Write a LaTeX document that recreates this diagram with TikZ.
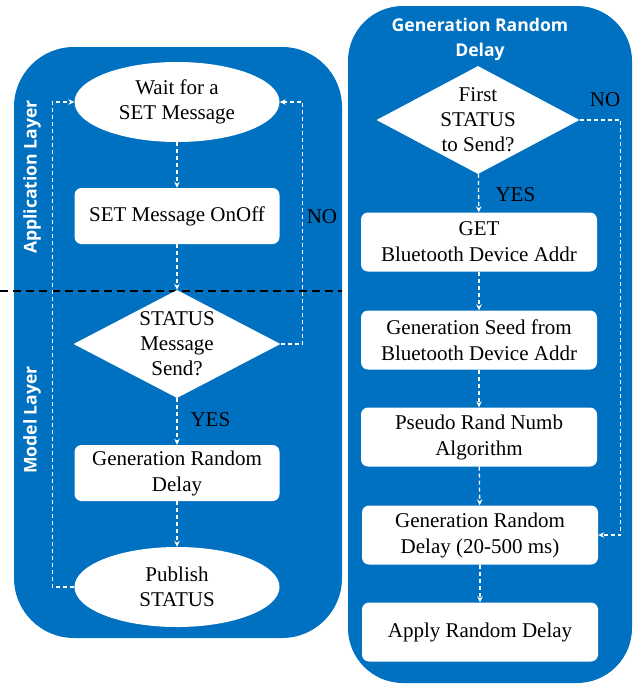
\documentclass[tikz,border=0pt]{standalone}
\usepackage{fontspec}
\setmainfont{Liberation Serif}
\newfontfamily\headfont{Open Sans}
\usetikzlibrary{shapes.geometric,arrows.meta}
\definecolor{layerblue}{RGB}{0,112,192}

\begin{document}
\begin{tikzpicture}[x=1pt, y=-1pt,
  panel/.style={fill=layerblue, draw=none},
  stepbox/.style={rectangle, rounded corners=7pt, fill=white, inner sep=0pt, align=center, font=\fontsize{21}{26}\selectfont},
  term/.style={ellipse, fill=white, minimum width=205pt, minimum height=80pt, inner sep=0pt, align=center, font=\fontsize{21}{25}\selectfont},
  decision/.style={diamond, fill=white, inner sep=0pt},
  flow/.style={draw=white, line width=1.3pt, dash pattern=on 4pt off 3pt, -{Stealth[length=6pt,width=5.5pt]}},
  tag/.style={font=\fontsize{21}{25}\selectfont, text=black},
  heading/.style={text=white, font=\headfont\bfseries\fontsize{17.6}{25}\selectfont, align=center}]
\useasboundingbox (0,0) rectangle (633,686);

% Panels
\fill[panel, rounded corners=60pt] (14,47) rectangle (342,638);
\fill[panel, rounded corners=55pt] (348,6) rectangle (632,683);

% Layer border
\draw[black, line width=1.5pt, dash pattern=on 8pt off 5pt] (0,291) -- (342,291);

% Layer names
\node[heading, rotate=90] (applayer) at (32,177) {Application Layer};
\node[heading, rotate=90] (modlayer) at (32,420) {Model Layer};

% Left flow
\node[term] (wait) at (177,102) {Wait for a\\SET Message};
\node[stepbox, minimum width=205pt, minimum height=56pt] (setmsg) at (177,216) {SET Message OnOff};
\node[decision, minimum width=207pt, minimum height=108pt,
  label={[tag, align=center]center:STATUS\\Message\\Send?}] (status) at (177,344) {};
\node[stepbox, minimum width=205pt, minimum height=56pt] (gendelay) at (177,473) {Generation Random\\Delay};
\node[term] (publish) at (177,587) {Publish\\STATUS};

\draw[flow] (wait) -- (setmsg);
\draw[flow] (setmsg) -- (status);
\draw[flow] (status) -- (gendelay);
\draw[flow] (gendelay) -- (publish);
\draw[flow] (status.east) -- ++(22,0) |- (wait.east);
\draw[flow] (publish.west) -- ++(-22,0) |- (wait.west);
\node[tag, anchor=west] (yesleft) at (187,420) {YES};
\node[tag] (noleft) at (322,217) {NO};

% Right flow
\node[heading] (title) at (480,39) {Generation Random\\Delay};
\node[decision, minimum width=203pt, minimum height=108pt,
  label={[tag, align=center]center:First\\STATUS\\to Send?}] (first) at (478,120) {};
\node[stepbox, minimum width=236pt, minimum height=59pt] (getaddr) at (479,242) {GET\\Bluetooth Device Addr};
\node[stepbox, minimum width=236pt, minimum height=59pt] (seed) at (479,340) {Generation Seed from\\Bluetooth Device Addr};
\node[stepbox, minimum width=236pt, minimum height=59pt] (prng) at (479,437) {Pseudo Rand Numb\\Algorithm};
\node[stepbox, minimum width=236pt, minimum height=59pt] (rdelay) at (480,535) {Generation Random\\Delay (20-500 ms)};
\node[stepbox, minimum width=236pt, minimum height=59pt] (apply) at (480,632) {Apply Random Delay};

\draw[flow] (first) -- (getaddr);
\draw[flow] (getaddr) -- (seed);
\draw[flow] (seed) -- (prng);
\draw[flow] (prng) -- (rdelay);
\draw[flow] (rdelay) -- (apply);
\draw[flow] (first.east) -- ++(41,0) |- (rdelay.east);
\node[tag, anchor=west] (yesright) at (492,195) {YES};
\node[tag] (noright) at (605,100) {NO};

\end{tikzpicture}
\end{document}
